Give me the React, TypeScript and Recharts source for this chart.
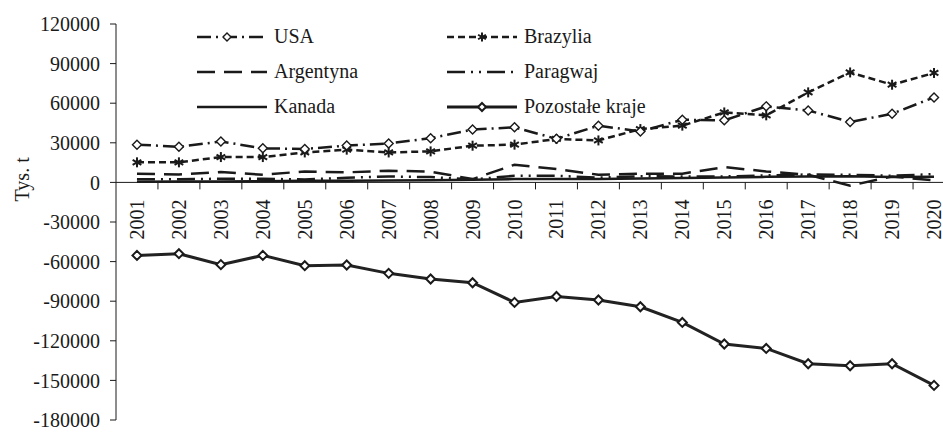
import { LineChart, Line, XAxis, YAxis, ReferenceLine } from 'recharts';

const YEARS = [
  '2001', '2002', '2003', '2004', '2005', '2006', '2007', '2008', '2009', '2010',
  '2011', '2012', '2013', '2014', '2015', '2016', '2017', '2018', '2019', '2020',
];

const USA = [28600, 27000, 31000, 25800, 25300, 27900, 29500, 33500, 40000, 41700, 33000, 43000, 38600, 47500, 47000, 57600, 54500, 45800, 52000, 64400];
const BRAZYLIA = [15200, 15200, 19200, 19200, 22700, 24800, 22700, 23500, 27800, 28600, 32900, 31800, 40400, 43000, 53000, 50800, 68200, 83300, 74000, 82900];
const ARGENTYNA = [6600, 6000, 7900, 5800, 8300, 7600, 8900, 8100, 2500, 13400, 10100, 5800, 6600, 6600, 11600, 8300, 5800, -2500, 4500, 1500];
const PARAGWAJ = [2400, 2300, 2800, 2700, 2200, 3500, 4500, 4000, 2200, 5000, 5000, 3600, 4700, 4500, 4500, 5300, 6000, 5800, 5000, 6300];
const KANADA = [500, 600, 700, 900, 1300, 1300, 1500, 1600, 2000, 2500, 2600, 2500, 2900, 3400, 3800, 4200, 4500, 4700, 4000, 4300];
const POZOSTALE = [-55300, -54000, -62300, -55300, -63100, -62600, -68900, -73200, -76000, -90900, -86400, -89100, -94200, -106100, -122400, -125800, -137400, -138900, -137400, -153800];

const Y_TICKS = [-180000, -150000, -120000, -90000, -60000, -30000, 0, 30000, 60000, 90000, 120000];
const Y_MIN = -180000;
const Y_MAX = 120000;

const data = YEARS.map((year, i) => ({
  year,
  usa: USA[i],
  brazylia: BRAZYLIA[i],
  argentyna: ARGENTYNA[i],
  paragwaj: PARAGWAJ[i],
  kanada: KANADA[i],
  pozostale: POZOSTALE[i],
}));

// layout
const CHART_W = 955;
const CHART_H = 432;
const MARGIN_TOP = 24;
const Y_AXIS_W = 116;
const X_AXIS_H = 12;
const PLOT_W = CHART_W - Y_AXIS_W;
const PLOT_H = CHART_H - MARGIN_TOP - X_AXIS_H;
const BAND = PLOT_W / YEARS.length;
const ZERO_Y = MARGIN_TOP + (PLOT_H * Y_MAX) / (Y_MAX - Y_MIN);

const FONT = '"Liberation Serif", "Times New Roman", serif';
const INK = '#1a1a1a';

function Diamond({ cx, cy, r = 4.5, sw = 1.4 }: { cx?: number; cy?: number; r?: number; sw?: number }) {
  if (cx == null || cy == null) return null;
  return (
    <path
      d={`M${cx},${cy - r} L${cx + r},${cy} L${cx},${cy + r} L${cx - r},${cy} Z`}
      fill="#fff"
      stroke={INK}
      strokeWidth={sw}
    />
  );
}

function Asterisk({ cx, cy, r = 5 }: { cx?: number; cy?: number; r?: number }) {
  if (cx == null || cy == null) return null;
  const d = r * 0.87;
  return (
    <g stroke={INK} strokeWidth={2} strokeLinecap="butt">
      <line x1={cx - d} y1={cy - r / 2} x2={cx + d} y2={cy + r / 2} />
      <line x1={cx - d} y1={cy + r / 2} x2={cx + d} y2={cy - r / 2} />
      <line x1={cx} y1={cy - r} x2={cx} y2={cy + r} />
    </g>
  );
}

function XTick(props: any) {
  const { x, payload } = props;
  const labelY = ZERO_Y + 17;
  return (
    <g>
      <line x1={x + BAND / 2} y1={ZERO_Y} x2={x + BAND / 2} y2={ZERO_Y + 7} stroke={INK} strokeWidth={1} />
      <text
        x={x}
        y={labelY}
        transform={`rotate(-90, ${x}, ${labelY})`}
        textAnchor="end"
        dy="0.35em"
        fontFamily={FONT}
        fontSize={20}
        fill={INK}
      >
        {payload.value}
      </text>
    </g>
  );
}

function YLabel(props: any) {
  const vb = props.viewBox;
  const cx = vb.x + 22;
  const cy = ZERO_Y - 3;
  return (
    <text
      x={cx}
      y={cy}
      transform={`rotate(-90, ${cx}, ${cy})`}
      textAnchor="middle"
      dy="0.35em"
      fontFamily={FONT}
      fontSize={20}
      fill={INK}
    >
      Tys. t
    </text>
  );
}

const LEGEND = [
  { name: 'USA', dash: '14 5 2 5', width: 2.5, marker: 'diamond' },
  { name: 'Brazylia', dash: '7 4', width: 2.5, marker: 'asterisk' },
  { name: 'Argentyna', dash: '18 9', width: 2.5, marker: null },
  { name: 'Paragwaj', dash: '18 6 2 6 2 6', width: 2.5, marker: null },
  { name: 'Kanada', dash: undefined, width: 2.5, marker: null },
  { name: 'Pozostałe kraje', dash: undefined, width: 3, marker: 'solidDiamond' },
];

function LegendSample({ dash, width, marker }: { dash?: string; width: number; marker: string | null }) {
  return (
    <svg width={70} height={20} style={{ display: 'block' }}>
      <line x1={0} y1={10} x2={70} y2={10} stroke={INK} strokeWidth={width} strokeDasharray={dash} />
      {marker === 'diamond' && <Diamond cx={30} cy={10} r={4} />}
      {marker === 'asterisk' && <Asterisk cx={35} cy={10} r={4.5} />}
      {marker === 'solidDiamond' && <Diamond cx={35} cy={10} r={4} sw={2} />}
    </svg>
  );
}

export default function App() {
  return (
    <div
      style={{
        position: 'absolute',
        left: 0,
        top: 0,
        width: 943,
        height: 432,
        overflow: 'hidden',
        background: '#fff',
      }}
    >
      <LineChart
        width={CHART_W}
        height={CHART_H}
        data={data}
        margin={{ top: MARGIN_TOP, right: 0, bottom: 0, left: 0 }}
      >
        <XAxis
          dataKey="year"
          height={X_AXIS_H}
          axisLine={false}
          tickLine={false}
          interval={0}
          padding={{ left: BAND / 2, right: BAND / 2 }}
          tick={<XTick />}
        />
        <YAxis
          width={Y_AXIS_W}
          domain={[Y_MIN, Y_MAX]}
          ticks={Y_TICKS}
          interval={0}
          axisLine={{ stroke: INK, strokeWidth: 1 }}
          tickLine={{ stroke: INK, strokeWidth: 1 }}
          tickSize={6}
          tickMargin={10}
          tick={{ fontFamily: FONT, fontSize: 20, fill: INK }}
          label={<YLabel />}
        />
        <ReferenceLine y={0} stroke={INK} strokeWidth={1} />
        <Line
          dataKey="kanada"
          stroke={INK}
          strokeWidth={2.5}
          dot={false}
          activeDot={false}
          isAnimationActive={false}
        />
        <Line
          dataKey="paragwaj"
          stroke={INK}
          strokeWidth={2.5}
          strokeDasharray="18 6 2 6 2 6"
          dot={false}
          activeDot={false}
          isAnimationActive={false}
        />
        <Line
          dataKey="argentyna"
          stroke={INK}
          strokeWidth={2.5}
          strokeDasharray="18 9"
          dot={false}
          activeDot={false}
          isAnimationActive={false}
        />
        <Line
          dataKey="brazylia"
          stroke={INK}
          strokeWidth={2.5}
          strokeDasharray="7 4"
          dot={(p: any) => <Asterisk key={`b-${p.index}`} cx={p.cx} cy={p.cy} />}
          activeDot={false}
          isAnimationActive={false}
        />
        <Line
          dataKey="usa"
          stroke={INK}
          strokeWidth={2.5}
          strokeDasharray="14 5 2 5"
          dot={(p: any) => <Diamond key={`u-${p.index}`} cx={p.cx} cy={p.cy} />}
          activeDot={false}
          isAnimationActive={false}
        />
        <Line
          dataKey="pozostale"
          stroke="#222"
          strokeWidth={3}
          dot={(p: any) => <Diamond key={`p-${p.index}`} cx={p.cx} cy={p.cy} r={4.5} sw={2} />}
          activeDot={false}
          isAnimationActive={false}
        />
      </LineChart>
      <div
        style={{
          position: 'absolute',
          left: 197,
          top: 19,
          display: 'grid',
          gridTemplateColumns: '250px 250px',
          gridAutoRows: '35px',
          fontFamily: FONT,
          fontSize: 20,
          color: INK,
        }}
      >
        {LEGEND.map((item) => (
          <div key={item.name} style={{ display: 'flex', alignItems: 'center', gap: 7 }}>
            <LegendSample dash={item.dash} width={item.width} marker={item.marker} />
            <span style={{ whiteSpace: 'nowrap' }}>{item.name}</span>
          </div>
        ))}
      </div>
    </div>
  );
}
